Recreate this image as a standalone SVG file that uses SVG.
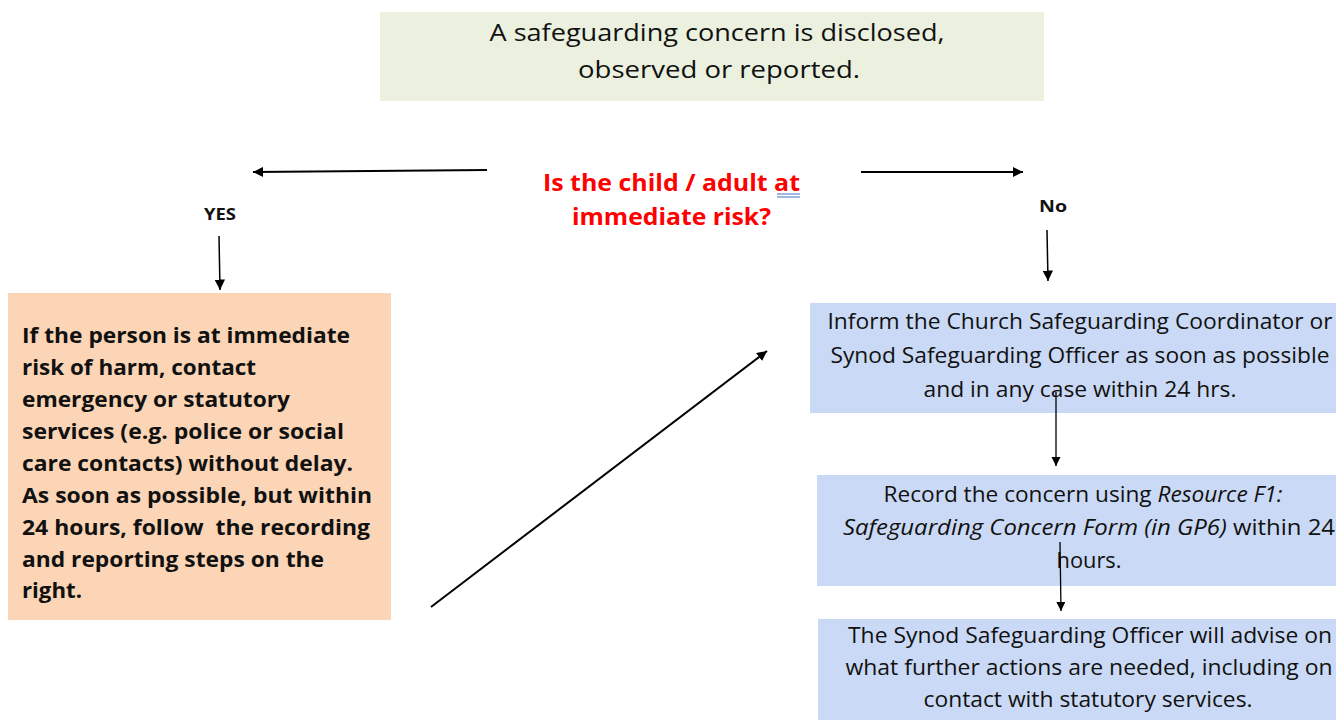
<svg xmlns="http://www.w3.org/2000/svg" width="1336" height="720" viewBox="0 0 1336 720">
<defs>
<marker id="ah" viewBox="0 0 10 10" refX="10" refY="5" markerWidth="5" markerHeight="5" orient="auto" markerUnits="strokeWidth">
<path d="M0,0 L10,5 L0,10 z" fill="#000"/>
</marker>
<marker id="ahs" viewBox="0 0 10 10" refX="10" refY="5" markerWidth="7" markerHeight="7" orient="auto" markerUnits="strokeWidth">
<path d="M0,0 L10,5 L0,10 z" fill="#000"/>
</marker>
</defs>
<style>
.t{font-family:"Open Sans","Noto Sans","Liberation Sans",sans-serif;fill:#111;}
.reg{font-size:21px;}
.top{font-size:23px;}
.bold{font-weight:bold;}
.red{fill:#FF0000;font-size:23px;font-weight:bold;}
.lbl{font-size:16px;font-weight:bold;}
.conn{stroke:#000;fill:none;}
</style>
<rect width="1336" height="720" fill="#fff"/>

<g id="start">
<rect x="380" y="12" width="664" height="89" fill="#EBF0DF"/>
<text class="t top" text-anchor="middle" x="717" y="41" textLength="455" lengthAdjust="spacingAndGlyphs">A safeguarding concern is disclosed,</text>
<text class="t top" text-anchor="middle" x="719" y="78" textLength="282" lengthAdjust="spacingAndGlyphs">observed or reported.</text>
</g>

<g id="question">
<text class="t red" x="543" y="191" textLength="257" lengthAdjust="spacingAndGlyphs">Is the child / adult at</text>
<text class="t red" x="572" y="225" textLength="199" lengthAdjust="spacingAndGlyphs">immediate risk?</text>
<line x1="777" y1="194" x2="800" y2="194" stroke="#4472C4" stroke-width="1"/>
<line x1="777" y1="197" x2="800" y2="197" stroke="#4472C4" stroke-width="1"/>
</g>

<g id="yes-label">
<text class="t lbl" x="204" y="220" textLength="32" lengthAdjust="spacingAndGlyphs">YES</text>
</g>
<g id="no-label">
<text class="t lbl" x="1039" y="212" textLength="28" lengthAdjust="spacingAndGlyphs">No</text>
</g>

<g id="immediate-risk">
<rect x="8" y="293" width="383" height="327" fill="#FBD5B5"/>
<g class="t bold" font-size="21">
<text x="22" y="343" textLength="328" lengthAdjust="spacingAndGlyphs">If the person is at immediate</text>
<text x="22" y="375" textLength="234" lengthAdjust="spacingAndGlyphs">risk of harm, contact</text>
<text x="22" y="407" textLength="268" lengthAdjust="spacingAndGlyphs">emergency or statutory</text>
<text x="22" y="439" textLength="322" lengthAdjust="spacingAndGlyphs">services (e.g. police or social</text>
<text x="22" y="471" textLength="331" lengthAdjust="spacingAndGlyphs">care contacts) without delay.</text>
<text x="22" y="503" textLength="350" lengthAdjust="spacingAndGlyphs">As soon as possible, but within</text>
<text x="22" y="535" textLength="348" lengthAdjust="spacingAndGlyphs" xml:space="preserve">24 hours, follow  the recording</text>
<text x="22" y="567" textLength="302" lengthAdjust="spacingAndGlyphs">and reporting steps on the</text>
<text x="22" y="598" textLength="60" lengthAdjust="spacingAndGlyphs">right.</text>
</g>
</g>

<g id="inform">
<rect x="810" y="303" width="526" height="110" fill="#CAD9F5"/>
<g class="t reg" text-anchor="middle">
<text x="1080" y="329" textLength="505" lengthAdjust="spacingAndGlyphs">Inform the Church Safeguarding Coordinator or</text>
<text x="1080" y="363" textLength="499" lengthAdjust="spacingAndGlyphs">Synod Safeguarding Officer as soon as possible</text>
<text x="1080" y="397" textLength="313" lengthAdjust="spacingAndGlyphs">and in any case within 24 hrs.</text>
</g>
</g>

<g id="record">
<rect x="817" y="475" width="519" height="111" fill="#CAD9F5"/>
<g class="t reg" text-anchor="middle">
<text x="1083" y="502" textLength="399" lengthAdjust="spacingAndGlyphs">Record the concern using <tspan font-style="italic">Resource F1:</tspan></text>
<text x="1089" y="535" textLength="492" lengthAdjust="spacingAndGlyphs"><tspan font-style="italic">Safeguarding Concern Form (in GP6)</tspan> within 24</text>
<text x="1089" y="568" textLength="65" lengthAdjust="spacingAndGlyphs">hours.</text>
</g>
</g>

<g id="advise">
<rect x="818" y="619" width="518" height="101" fill="#CAD9F5"/>
<g class="t reg" text-anchor="middle">
<text x="1090" y="643" textLength="484" lengthAdjust="spacingAndGlyphs">The Synod Safeguarding Officer will advise on</text>
<text x="1089" y="675" textLength="487" lengthAdjust="spacingAndGlyphs">what further actions are needed, including on</text>
<text x="1088" y="707" textLength="329" lengthAdjust="spacingAndGlyphs">contact with statutory services.</text>
</g>
</g>

<g id="connectors">
<line class="conn" x1="487" y1="170" x2="253" y2="172" stroke-width="2" marker-end="url(#ah)"/>
<line class="conn" x1="861" y1="172" x2="1023" y2="172" stroke-width="2" marker-end="url(#ah)"/>
<line class="conn" x1="219" y1="236" x2="220" y2="290" stroke-width="1.5" marker-end="url(#ahs)"/>
<line class="conn" x1="1047" y1="230" x2="1048" y2="281" stroke-width="1.5" marker-end="url(#ahs)"/>
<line class="conn" x1="431" y1="607" x2="767" y2="351" stroke-width="2" marker-end="url(#ah)"/>
<line class="conn" x1="1056" y1="392" x2="1056" y2="466" stroke-width="1.3" marker-end="url(#ahs)"/>
<line class="conn" x1="1060" y1="542" x2="1061" y2="611" stroke-width="1.3" marker-end="url(#ahs)"/>
</g>
</svg>
